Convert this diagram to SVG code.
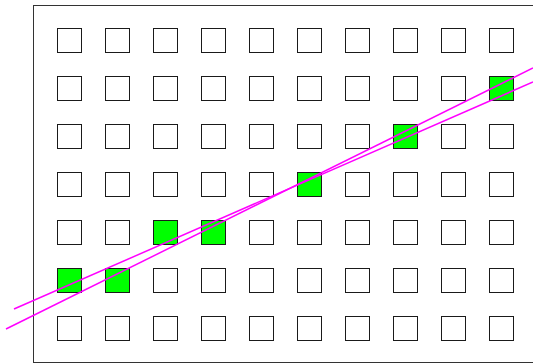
<svg xmlns="http://www.w3.org/2000/svg" width="533" height="364" viewBox="0 0 533 364">
<style>
.c{fill:#fff;stroke:#1a1a1a;stroke-width:1}
.g{fill:#00ff00;stroke:#1a1a1a;stroke-width:1}
.l{stroke:#ff00ff;stroke-width:1.5;fill:none}
</style>
<defs><rect id="s" width="24" height="24"/></defs>
<rect x="33.5" y="5.5" width="510" height="357" fill="#fff" stroke="#333" stroke-width="1"/>
<g id="grid">
<g id="r0"><use href="#s" class="c" x="57.5" y="28.5"/><use href="#s" class="c" x="105.5" y="28.5"/><use href="#s" class="c" x="153.5" y="28.5"/><use href="#s" class="c" x="201.5" y="28.5"/><use href="#s" class="c" x="249.5" y="28.5"/><use href="#s" class="c" x="297.5" y="28.5"/><use href="#s" class="c" x="345.5" y="28.5"/><use href="#s" class="c" x="393.5" y="28.5"/><use href="#s" class="c" x="441.5" y="28.5"/><use href="#s" class="c" x="489.5" y="28.5"/></g>
<g id="r1"><use href="#s" class="c" x="57.5" y="76.5"/><use href="#s" class="c" x="105.5" y="76.5"/><use href="#s" class="c" x="153.5" y="76.5"/><use href="#s" class="c" x="201.5" y="76.5"/><use href="#s" class="c" x="249.5" y="76.5"/><use href="#s" class="c" x="297.5" y="76.5"/><use href="#s" class="c" x="345.5" y="76.5"/><use href="#s" class="c" x="393.5" y="76.5"/><use href="#s" class="c" x="441.5" y="76.5"/><use href="#s" class="g" x="489.5" y="76.5"/></g>
<g id="r2"><use href="#s" class="c" x="57.5" y="124.5"/><use href="#s" class="c" x="105.5" y="124.5"/><use href="#s" class="c" x="153.5" y="124.5"/><use href="#s" class="c" x="201.5" y="124.5"/><use href="#s" class="c" x="249.5" y="124.5"/><use href="#s" class="c" x="297.5" y="124.5"/><use href="#s" class="c" x="345.5" y="124.5"/><use href="#s" class="g" x="393.5" y="124.5"/><use href="#s" class="c" x="441.5" y="124.5"/><use href="#s" class="c" x="489.5" y="124.5"/></g>
<g id="r3"><use href="#s" class="c" x="57.5" y="172.5"/><use href="#s" class="c" x="105.5" y="172.5"/><use href="#s" class="c" x="153.5" y="172.5"/><use href="#s" class="c" x="201.5" y="172.5"/><use href="#s" class="c" x="249.5" y="172.5"/><use href="#s" class="g" x="297.5" y="172.5"/><use href="#s" class="c" x="345.5" y="172.5"/><use href="#s" class="c" x="393.5" y="172.5"/><use href="#s" class="c" x="441.5" y="172.5"/><use href="#s" class="c" x="489.5" y="172.5"/></g>
<g id="r4"><use href="#s" class="c" x="57.5" y="220.5"/><use href="#s" class="c" x="105.5" y="220.5"/><use href="#s" class="g" x="153.5" y="220.5"/><use href="#s" class="g" x="201.5" y="220.5"/><use href="#s" class="c" x="249.5" y="220.5"/><use href="#s" class="c" x="297.5" y="220.5"/><use href="#s" class="c" x="345.5" y="220.5"/><use href="#s" class="c" x="393.5" y="220.5"/><use href="#s" class="c" x="441.5" y="220.5"/><use href="#s" class="c" x="489.5" y="220.5"/></g>
<g id="r5"><use href="#s" class="g" x="57.5" y="268.5"/><use href="#s" class="g" x="105.5" y="268.5"/><use href="#s" class="c" x="153.5" y="268.5"/><use href="#s" class="c" x="201.5" y="268.5"/><use href="#s" class="c" x="249.5" y="268.5"/><use href="#s" class="c" x="297.5" y="268.5"/><use href="#s" class="c" x="345.5" y="268.5"/><use href="#s" class="c" x="393.5" y="268.5"/><use href="#s" class="c" x="441.5" y="268.5"/><use href="#s" class="c" x="489.5" y="268.5"/></g>
<g id="r6"><use href="#s" class="c" x="57.5" y="316.5"/><use href="#s" class="c" x="105.5" y="316.5"/><use href="#s" class="c" x="153.5" y="316.5"/><use href="#s" class="c" x="201.5" y="316.5"/><use href="#s" class="c" x="249.5" y="316.5"/><use href="#s" class="c" x="297.5" y="316.5"/><use href="#s" class="c" x="345.5" y="316.5"/><use href="#s" class="c" x="393.5" y="316.5"/><use href="#s" class="c" x="441.5" y="316.5"/><use href="#s" class="c" x="489.5" y="316.5"/></g>
</g>
<g id="lines">
<line class="l" x1="6" y1="329" x2="533" y2="68"/>
<line class="l" x1="14" y1="309" x2="533" y2="82"/>
</g>
</svg>
